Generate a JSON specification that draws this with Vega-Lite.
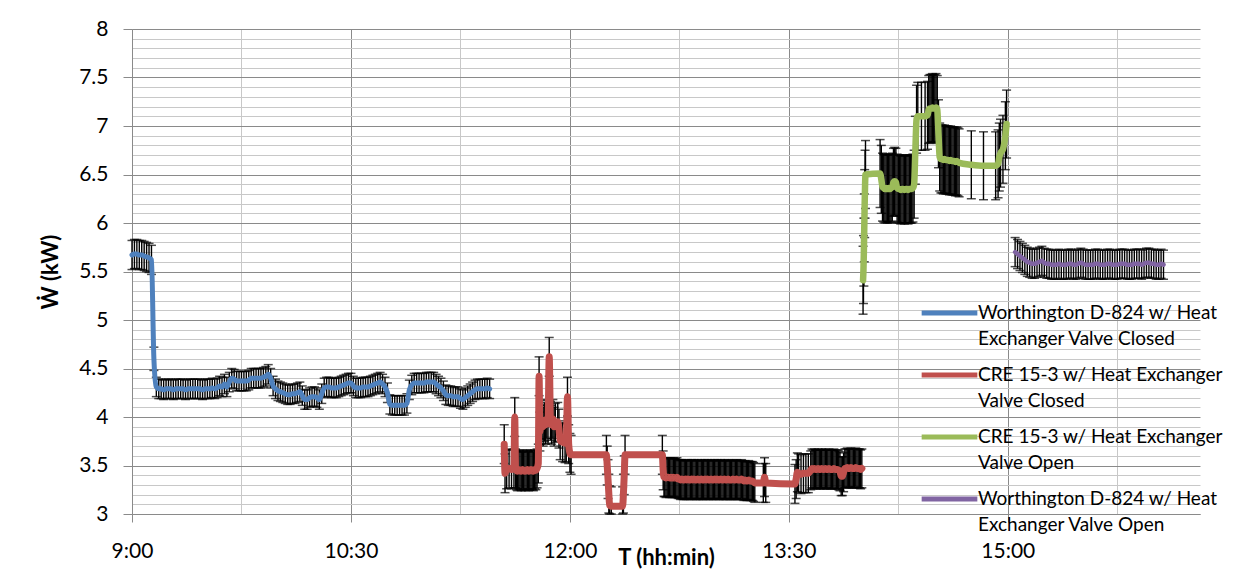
{
  "$schema": "https://vega.github.io/schema/vega-lite/v6.json",
  "width": 1068,
  "height": 485,
  "autosize": {"type": "none"},
  "padding": {"left": 132, "top": 29, "right": 53, "bottom": 62},
  "background": "white",
  "config": {
    "view": {"stroke": null},
    "font": "Lato",
    "style": {"guide-label": {"lineHeight": 26}}
  },
  "data": {
    "format": {"parse": {"t": "date:'%H:%M:%S'"}},
    "values": [
      {"s":"WC","t":"9:00:00","w":5.67,"e":0.15},{"s":"WC","t":"9:01:00","w":5.68,"e":0.15},{"s":"WC","t":"9:02:00","w":5.68,"e":0.15},{"s":"WC","t":"9:03:00","w":5.67,"e":0.15},{"s":"WC","t":"9:04:00","w":5.67,"e":0.15},{"s":"WC","t":"9:05:00","w":5.66,"e":0.15},{"s":"WC","t":"9:06:00","w":5.65,"e":0.15},{"s":"WC","t":"9:07:00","w":5.64,"e":0.15},{"s":"WC","t":"9:08:00","w":5.62,"e":0.15},{"s":"WC","t":"9:09:00","w":4.60,"e":0.12},
      {"s":"WC","t":"9:10:00","w":4.31,"e":0.1},{"s":"WC","t":"9:11:00","w":4.29,"e":0.1},{"s":"WC","t":"9:12:00","w":4.29,"e":0.1},{"s":"WC","t":"9:13:00","w":4.28,"e":0.1},{"s":"WC","t":"9:14:00","w":4.29,"e":0.1},{"s":"WC","t":"9:15:00","w":4.29,"e":0.1},{"s":"WC","t":"9:16:00","w":4.29,"e":0.1},{"s":"WC","t":"9:17:00","w":4.28,"e":0.1},{"s":"WC","t":"9:18:00","w":4.29,"e":0.1},{"s":"WC","t":"9:19:00","w":4.29,"e":0.1},
      {"s":"WC","t":"9:20:00","w":4.29,"e":0.1},{"s":"WC","t":"9:21:00","w":4.29,"e":0.1},{"s":"WC","t":"9:22:00","w":4.28,"e":0.1},{"s":"WC","t":"9:23:00","w":4.29,"e":0.1},{"s":"WC","t":"9:24:00","w":4.29,"e":0.1},{"s":"WC","t":"9:25:00","w":4.29,"e":0.1},{"s":"WC","t":"9:26:00","w":4.29,"e":0.1},{"s":"WC","t":"9:27:00","w":4.29,"e":0.1},{"s":"WC","t":"9:28:00","w":4.29,"e":0.1},{"s":"WC","t":"9:29:00","w":4.28,"e":0.1},
      {"s":"WC","t":"9:30:00","w":4.29,"e":0.1},{"s":"WC","t":"9:31:00","w":4.29,"e":0.1},{"s":"WC","t":"9:32:00","w":4.29,"e":0.1},{"s":"WC","t":"9:33:00","w":4.30,"e":0.1},{"s":"WC","t":"9:34:00","w":4.29,"e":0.1},{"s":"WC","t":"9:35:00","w":4.30,"e":0.1},{"s":"WC","t":"9:36:00","w":4.32,"e":0.1},{"s":"WC","t":"9:37:00","w":4.31,"e":0.1},{"s":"WC","t":"9:38:00","w":4.34,"e":0.1},{"s":"WC","t":"9:39:00","w":4.31,"e":0.1},
      {"s":"WC","t":"9:40:00","w":4.36,"e":0.1},{"s":"WC","t":"9:41:00","w":4.40,"e":0.1},{"s":"WC","t":"9:42:00","w":4.39,"e":0.1},{"s":"WC","t":"9:43:00","w":4.37,"e":0.1},{"s":"WC","t":"9:44:00","w":4.37,"e":0.1},{"s":"WC","t":"9:45:00","w":4.37,"e":0.1},{"s":"WC","t":"9:46:00","w":4.37,"e":0.1},{"s":"WC","t":"9:47:00","w":4.37,"e":0.1},{"s":"WC","t":"9:48:00","w":4.38,"e":0.1},{"s":"WC","t":"9:49:00","w":4.40,"e":0.1},
      {"s":"WC","t":"9:50:00","w":4.40,"e":0.1},{"s":"WC","t":"9:51:00","w":4.40,"e":0.1},{"s":"WC","t":"9:52:00","w":4.40,"e":0.1},{"s":"WC","t":"9:53:00","w":4.40,"e":0.1},{"s":"WC","t":"9:54:00","w":4.41,"e":0.1},{"s":"WC","t":"9:55:00","w":4.42,"e":0.1},{"s":"WC","t":"9:56:00","w":4.44,"e":0.1},{"s":"WC","t":"9:57:00","w":4.40,"e":0.1},{"s":"WC","t":"9:58:00","w":4.32,"e":0.1},{"s":"WC","t":"9:59:00","w":4.29,"e":0.1},
      {"s":"WC","t":"10:00:00","w":4.27,"e":0.1},{"s":"WC","t":"10:01:00","w":4.26,"e":0.1},{"s":"WC","t":"10:02:00","w":4.25,"e":0.1},{"s":"WC","t":"10:03:00","w":4.24,"e":0.1},{"s":"WC","t":"10:04:00","w":4.23,"e":0.1},{"s":"WC","t":"10:05:00","w":4.23,"e":0.1},{"s":"WC","t":"10:06:00","w":4.24,"e":0.1},{"s":"WC","t":"10:07:00","w":4.24,"e":0.1},{"s":"WC","t":"10:08:00","w":4.25,"e":0.1},{"s":"WC","t":"10:09:00","w":4.26,"e":0.1},
      {"s":"WC","t":"10:10:00","w":4.22,"e":0.1},{"s":"WC","t":"10:11:00","w":4.18,"e":0.1},{"s":"WC","t":"10:12:00","w":4.18,"e":0.1},{"s":"WC","t":"10:13:00","w":4.20,"e":0.1},{"s":"WC","t":"10:14:00","w":4.21,"e":0.1},{"s":"WC","t":"10:15:00","w":4.21,"e":0.1},{"s":"WC","t":"10:16:00","w":4.20,"e":0.1},{"s":"WC","t":"10:17:00","w":4.18,"e":0.1},{"s":"WC","t":"10:18:00","w":4.24,"e":0.1},{"s":"WC","t":"10:19:00","w":4.30,"e":0.1},
      {"s":"WC","t":"10:20:00","w":4.31,"e":0.1},{"s":"WC","t":"10:21:00","w":4.31,"e":0.1},{"s":"WC","t":"10:22:00","w":4.30,"e":0.1},{"s":"WC","t":"10:23:00","w":4.30,"e":0.1},{"s":"WC","t":"10:24:00","w":4.30,"e":0.1},{"s":"WC","t":"10:25:00","w":4.31,"e":0.1},{"s":"WC","t":"10:26:00","w":4.32,"e":0.1},{"s":"WC","t":"10:27:00","w":4.33,"e":0.1},{"s":"WC","t":"10:28:00","w":4.34,"e":0.1},{"s":"WC","t":"10:29:00","w":4.35,"e":0.1},
      {"s":"WC","t":"10:30:00","w":4.35,"e":0.1},{"s":"WC","t":"10:31:00","w":4.32,"e":0.1},{"s":"WC","t":"10:32:00","w":4.30,"e":0.1},{"s":"WC","t":"10:33:00","w":4.30,"e":0.1},{"s":"WC","t":"10:34:00","w":4.30,"e":0.1},{"s":"WC","t":"10:35:00","w":4.31,"e":0.1},{"s":"WC","t":"10:36:00","w":4.31,"e":0.1},{"s":"WC","t":"10:37:00","w":4.31,"e":0.1},{"s":"WC","t":"10:38:00","w":4.32,"e":0.1},{"s":"WC","t":"10:39:00","w":4.33,"e":0.1},
      {"s":"WC","t":"10:40:00","w":4.34,"e":0.1},{"s":"WC","t":"10:41:00","w":4.35,"e":0.1},{"s":"WC","t":"10:42:00","w":4.36,"e":0.1},{"s":"WC","t":"10:43:00","w":4.34,"e":0.1},{"s":"WC","t":"10:44:00","w":4.31,"e":0.1},{"s":"WC","t":"10:45:00","w":4.25,"e":0.1},{"s":"WC","t":"10:46:00","w":4.13,"e":0.1},{"s":"WC","t":"10:47:00","w":4.12,"e":0.1},{"s":"WC","t":"10:48:00","w":4.12,"e":0.1},{"s":"WC","t":"10:49:00","w":4.12,"e":0.1},
      {"s":"WC","t":"10:50:00","w":4.12,"e":0.1},{"s":"WC","t":"10:51:00","w":4.12,"e":0.1},{"s":"WC","t":"10:52:00","w":4.12,"e":0.1},{"s":"WC","t":"10:53:00","w":4.14,"e":0.1},{"s":"WC","t":"10:54:00","w":4.28,"e":0.1},{"s":"WC","t":"10:55:00","w":4.33,"e":0.1},{"s":"WC","t":"10:56:00","w":4.35,"e":0.1},{"s":"WC","t":"10:57:00","w":4.35,"e":0.1},{"s":"WC","t":"10:58:00","w":4.35,"e":0.1},{"s":"WC","t":"10:59:00","w":4.35,"e":0.1},
      {"s":"WC","t":"11:00:00","w":4.35,"e":0.1},{"s":"WC","t":"11:01:00","w":4.36,"e":0.1},{"s":"WC","t":"11:02:00","w":4.36,"e":0.1},{"s":"WC","t":"11:03:00","w":4.36,"e":0.1},{"s":"WC","t":"11:04:00","w":4.36,"e":0.1},{"s":"WC","t":"11:05:00","w":4.34,"e":0.1},{"s":"WC","t":"11:06:00","w":4.32,"e":0.1},{"s":"WC","t":"11:07:00","w":4.30,"e":0.1},{"s":"WC","t":"11:08:00","w":4.27,"e":0.1},{"s":"WC","t":"11:09:00","w":4.23,"e":0.1},
      {"s":"WC","t":"11:10:00","w":4.22,"e":0.1},{"s":"WC","t":"11:11:00","w":4.22,"e":0.1},{"s":"WC","t":"11:12:00","w":4.21,"e":0.1},{"s":"WC","t":"11:13:00","w":4.21,"e":0.1},{"s":"WC","t":"11:14:00","w":4.21,"e":0.1},{"s":"WC","t":"11:15:00","w":4.19,"e":0.1},{"s":"WC","t":"11:16:00","w":4.18,"e":0.1},{"s":"WC","t":"11:17:00","w":4.20,"e":0.1},{"s":"WC","t":"11:18:00","w":4.22,"e":0.1},{"s":"WC","t":"11:19:00","w":4.24,"e":0.1},
      {"s":"WC","t":"11:20:00","w":4.26,"e":0.1},{"s":"WC","t":"11:21:00","w":4.28,"e":0.1},{"s":"WC","t":"11:22:00","w":4.29,"e":0.1},{"s":"WC","t":"11:23:00","w":4.29,"e":0.1},{"s":"WC","t":"11:24:00","w":4.29,"e":0.1},{"s":"WC","t":"11:25:00","w":4.29,"e":0.1},{"s":"WC","t":"11:26:00","w":4.30,"e":0.1},{"s":"WC","t":"11:27:00","w":4.29,"e":0.1},

      {"s":"CC","t":"11:33:00","w":3.72,"e":0.2},{"s":"CC","t":"11:33:20","w":3.42,"e":0.2},{"s":"CC","t":"11:34:00","w":3.46,"e":0.2},{"s":"CC","t":"11:35:00","w":3.47,"e":0.2},{"s":"CC","t":"11:36:00","w":3.46,"e":0.2},{"s":"CC","t":"11:37:00","w":3.47,"e":0.2},{"s":"CC","t":"11:37:20","w":4.00,"e":0.2},{"s":"CC","t":"11:37:40","w":3.47,"e":0.2},
      {"s":"CC","t":"11:38:00","w":3.45,"e":0.2},{"s":"CC","t":"11:38:30","w":3.44,"e":0.2},{"s":"CC","t":"11:39:00","w":3.46,"e":0.2},{"s":"CC","t":"11:39:30","w":3.45,"e":0.2},{"s":"CC","t":"11:40:00","w":3.44,"e":0.2},{"s":"CC","t":"11:40:30","w":3.46,"e":0.2},{"s":"CC","t":"11:41:00","w":3.45,"e":0.2},{"s":"CC","t":"11:41:30","w":3.44,"e":0.2},{"s":"CC","t":"11:42:00","w":3.45,"e":0.2},{"s":"CC","t":"11:42:30","w":3.46,"e":0.2},
      {"s":"CC","t":"11:43:00","w":3.44,"e":0.2},{"s":"CC","t":"11:43:30","w":3.45,"e":0.2},{"s":"CC","t":"11:44:00","w":3.46,"e":0.2},{"s":"CC","t":"11:44:30","w":3.45,"e":0.2},{"s":"CC","t":"11:45:00","w":3.44,"e":0.2},{"s":"CC","t":"11:45:30","w":3.46,"e":0.2},{"s":"CC","t":"11:46:00","w":3.45,"e":0.2},{"s":"CC","t":"11:46:30","w":3.47,"e":0.2},{"s":"CC","t":"11:47:00","w":3.52,"e":0.2},{"s":"CC","t":"11:47:20","w":4.42,"e":0.2},
      {"s":"CC","t":"11:47:40","w":3.85,"e":0.2},{"s":"CC","t":"11:48:00","w":3.92,"e":0.2},{"s":"CC","t":"11:48:30","w":3.97,"e":0.2},{"s":"CC","t":"11:49:00","w":3.90,"e":0.2},{"s":"CC","t":"11:49:30","w":3.95,"e":0.2},{"s":"CC","t":"11:50:00","w":3.92,"e":0.2},{"s":"CC","t":"11:50:30","w":3.98,"e":0.2},{"s":"CC","t":"11:51:00","w":3.93,"e":0.2},{"s":"CC","t":"11:51:30","w":4.62,"e":0.2},{"s":"CC","t":"11:52:00","w":3.96,"e":0.2},
      {"s":"CC","t":"11:52:30","w":3.92,"e":0.2},{"s":"CC","t":"11:53:00","w":3.98,"e":0.2},{"s":"CC","t":"11:53:30","w":3.90,"e":0.2},{"s":"CC","t":"11:54:00","w":3.94,"e":0.2},{"s":"CC","t":"11:55:00","w":3.95,"e":0.2},{"s":"CC","t":"11:55:30","w":3.88,"e":0.2},{"s":"CC","t":"11:56:00","w":3.76,"e":0.2},{"s":"CC","t":"11:57:00","w":3.74,"e":0.2},{"s":"CC","t":"11:58:00","w":3.73,"e":0.2},{"s":"CC","t":"11:58:30","w":3.74,"e":0.2},
      {"s":"CC","t":"11:59:00","w":4.21,"e":0.2},{"s":"CC","t":"11:59:30","w":3.72,"e":0.2},{"s":"CC","t":"12:00:00","w":3.63,"e":0.2},{"s":"CC","t":"12:00:30","w":3.61,"e":0.2},{"s":"CC","t":"12:15:00","w":3.61,"e":0.2},{"s":"CC","t":"12:15:20","w":3.50,"e":0.2},{"s":"CC","t":"12:15:40","w":3.36,"e":0.2},{"s":"CC","t":"12:16:00","w":3.21,"e":0.2},{"s":"CC","t":"12:16:20","w":3.09,"e":0.2},{"s":"CC","t":"12:17:00","w":3.08,"e":0.2},
      {"s":"CC","t":"12:21:40","w":3.08,"e":0.2},{"s":"CC","t":"12:22:00","w":3.21,"e":0.2},{"s":"CC","t":"12:22:20","w":3.40,"e":0.2},{"s":"CC","t":"12:22:40","w":3.61,"e":0.2},{"s":"CC","t":"12:38:00","w":3.61,"e":0.2},{"s":"CC","t":"12:38:20","w":3.45,"e":0.2},{"s":"CC","t":"12:38:40","w":3.38,"e":0.2},
      {"s":"CC","t":"12:39:00","w":3.38,"e":0.2},{"s":"CC","t":"12:39:30","w":3.37,"e":0.2},{"s":"CC","t":"12:40:00","w":3.38,"e":0.2},{"s":"CC","t":"12:40:30","w":3.38,"e":0.2},{"s":"CC","t":"12:41:00","w":3.37,"e":0.2},{"s":"CC","t":"12:41:30","w":3.38,"e":0.2},{"s":"CC","t":"12:42:00","w":3.37,"e":0.2},{"s":"CC","t":"12:42:30","w":3.38,"e":0.2},{"s":"CC","t":"12:43:00","w":3.37,"e":0.2},{"s":"CC","t":"12:43:30","w":3.37,"e":0.2},
      {"s":"CC","t":"12:44:00","w":3.38,"e":0.2},{"s":"CC","t":"12:44:30","w":3.36,"e":0.2},{"s":"CC","t":"12:45:00","w":3.36,"e":0.2},{"s":"CC","t":"12:45:30","w":3.35,"e":0.2},{"s":"CC","t":"12:46:00","w":3.36,"e":0.2},{"s":"CC","t":"12:46:30","w":3.35,"e":0.2},{"s":"CC","t":"12:47:00","w":3.35,"e":0.2},{"s":"CC","t":"12:47:30","w":3.36,"e":0.2},{"s":"CC","t":"12:48:00","w":3.35,"e":0.2},{"s":"CC","t":"12:48:30","w":3.36,"e":0.2},
      {"s":"CC","t":"12:49:00","w":3.35,"e":0.2},{"s":"CC","t":"12:49:30","w":3.35,"e":0.2},{"s":"CC","t":"12:50:00","w":3.36,"e":0.2},{"s":"CC","t":"12:50:30","w":3.35,"e":0.2},{"s":"CC","t":"12:51:00","w":3.36,"e":0.2},{"s":"CC","t":"12:51:30","w":3.35,"e":0.2},{"s":"CC","t":"12:52:00","w":3.35,"e":0.2},{"s":"CC","t":"12:52:30","w":3.36,"e":0.2},{"s":"CC","t":"12:53:00","w":3.35,"e":0.2},{"s":"CC","t":"12:53:30","w":3.35,"e":0.2},
      {"s":"CC","t":"12:54:00","w":3.36,"e":0.2},{"s":"CC","t":"12:54:30","w":3.35,"e":0.2},{"s":"CC","t":"12:55:00","w":3.35,"e":0.2},{"s":"CC","t":"12:55:30","w":3.36,"e":0.2},{"s":"CC","t":"12:56:00","w":3.35,"e":0.2},{"s":"CC","t":"12:56:30","w":3.36,"e":0.2},{"s":"CC","t":"12:57:00","w":3.35,"e":0.2},{"s":"CC","t":"12:57:30","w":3.35,"e":0.2},{"s":"CC","t":"12:58:00","w":3.36,"e":0.2},{"s":"CC","t":"12:58:30","w":3.35,"e":0.2},
      {"s":"CC","t":"12:59:00","w":3.35,"e":0.2},{"s":"CC","t":"12:59:30","w":3.36,"e":0.2},{"s":"CC","t":"13:00:00","w":3.35,"e":0.2},{"s":"CC","t":"13:00:30","w":3.36,"e":0.2},{"s":"CC","t":"13:01:00","w":3.35,"e":0.2},{"s":"CC","t":"13:01:30","w":3.35,"e":0.2},{"s":"CC","t":"13:02:00","w":3.36,"e":0.2},{"s":"CC","t":"13:02:30","w":3.35,"e":0.2},{"s":"CC","t":"13:03:00","w":3.35,"e":0.2},{"s":"CC","t":"13:03:30","w":3.36,"e":0.2},
      {"s":"CC","t":"13:04:00","w":3.35,"e":0.2},{"s":"CC","t":"13:04:30","w":3.35,"e":0.2},{"s":"CC","t":"13:05:00","w":3.36,"e":0.2},{"s":"CC","t":"13:05:30","w":3.35,"e":0.2},{"s":"CC","t":"13:06:00","w":3.35,"e":0.2},{"s":"CC","t":"13:06:30","w":3.35,"e":0.2},{"s":"CC","t":"13:07:00","w":3.36,"e":0.2},{"s":"CC","t":"13:07:30","w":3.35,"e":0.2},{"s":"CC","t":"13:08:00","w":3.35,"e":0.2},{"s":"CC","t":"13:08:30","w":3.36,"e":0.2},
      {"s":"CC","t":"13:09:00","w":3.35,"e":0.2},{"s":"CC","t":"13:09:30","w":3.35,"e":0.2},{"s":"CC","t":"13:10:00","w":3.35,"e":0.2},{"s":"CC","t":"13:10:30","w":3.36,"e":0.2},{"s":"CC","t":"13:11:00","w":3.35,"e":0.2},{"s":"CC","t":"13:11:30","w":3.34,"e":0.2},{"s":"CC","t":"13:12:00","w":3.35,"e":0.2},{"s":"CC","t":"13:12:30","w":3.34,"e":0.2},{"s":"CC","t":"13:13:00","w":3.34,"e":0.2},{"s":"CC","t":"13:13:30","w":3.35,"e":0.2},
      {"s":"CC","t":"13:14:00","w":3.34,"e":0.2},{"s":"CC","t":"13:14:30","w":3.34,"e":0.2},{"s":"CC","t":"13:15:00","w":3.34,"e":0.2},{"s":"CC","t":"13:15:30","w":3.33,"e":0.2},{"s":"CC","t":"13:16:00","w":3.32,"e":0.2},{"s":"CC","t":"13:19:30","w":3.32,"e":0.2},{"s":"CC","t":"13:20:00","w":3.38,"e":0.2},{"s":"CC","t":"13:20:30","w":3.32,"e":0.2},{"s":"CC","t":"13:32:30","w":3.31,"e":0.2},{"s":"CC","t":"13:33:00","w":3.36,"e":0.2},
      {"s":"CC","t":"13:33:30","w":3.43,"e":0.2},{"s":"CC","t":"13:34:00","w":3.42,"e":0.2},{"s":"CC","t":"13:35:00","w":3.41,"e":0.2},{"s":"CC","t":"13:36:00","w":3.42,"e":0.2},{"s":"CC","t":"13:37:00","w":3.42,"e":0.2},{"s":"CC","t":"13:38:00","w":3.42,"e":0.2},{"s":"CC","t":"13:39:00","w":3.45,"e":0.2},{"s":"CC","t":"13:39:30","w":3.47,"e":0.2},
      {"s":"CC","t":"13:40:00","w":3.46,"e":0.2},{"s":"CC","t":"13:40:30","w":3.47,"e":0.2},{"s":"CC","t":"13:41:00","w":3.46,"e":0.2},{"s":"CC","t":"13:41:30","w":3.46,"e":0.2},{"s":"CC","t":"13:42:00","w":3.47,"e":0.2},{"s":"CC","t":"13:42:30","w":3.46,"e":0.2},{"s":"CC","t":"13:43:00","w":3.46,"e":0.2},{"s":"CC","t":"13:43:30","w":3.47,"e":0.2},{"s":"CC","t":"13:44:00","w":3.46,"e":0.2},{"s":"CC","t":"13:44:30","w":3.46,"e":0.2},
      {"s":"CC","t":"13:45:00","w":3.47,"e":0.2},{"s":"CC","t":"13:45:30","w":3.46,"e":0.2},{"s":"CC","t":"13:46:00","w":3.46,"e":0.2},{"s":"CC","t":"13:46:30","w":3.47,"e":0.2},{"s":"CC","t":"13:47:00","w":3.46,"e":0.2},{"s":"CC","t":"13:47:30","w":3.46,"e":0.2},{"s":"CC","t":"13:48:00","w":3.46,"e":0.2},{"s":"CC","t":"13:48:30","w":3.47,"e":0.2},{"s":"CC","t":"13:49:00","w":3.46,"e":0.2},{"s":"CC","t":"13:49:30","w":3.46,"e":0.2},
      {"s":"CC","t":"13:50:00","w":3.46,"e":0.2},{"s":"CC","t":"13:50:30","w":3.45,"e":0.2},{"s":"CC","t":"13:51:00","w":3.44,"e":0.2},{"s":"CC","t":"13:51:30","w":3.39,"e":0.2},{"s":"CC","t":"13:52:00","w":3.39,"e":0.2},{"s":"CC","t":"13:52:30","w":3.43,"e":0.2},
      {"s":"CC","t":"13:53:00","w":3.47,"e":0.2},{"s":"CC","t":"13:53:30","w":3.47,"e":0.2},{"s":"CC","t":"13:54:00","w":3.48,"e":0.2},{"s":"CC","t":"13:54:30","w":3.47,"e":0.2},{"s":"CC","t":"13:55:00","w":3.47,"e":0.2},{"s":"CC","t":"13:55:30","w":3.48,"e":0.2},{"s":"CC","t":"13:56:00","w":3.47,"e":0.2},{"s":"CC","t":"13:56:30","w":3.47,"e":0.2},{"s":"CC","t":"13:57:00","w":3.47,"e":0.2},{"s":"CC","t":"13:57:30","w":3.48,"e":0.2},
      {"s":"CC","t":"13:58:00","w":3.47,"e":0.2},{"s":"CC","t":"13:58:30","w":3.47,"e":0.2},{"s":"CC","t":"13:59:00","w":3.47,"e":0.2},{"s":"CC","t":"13:59:30","w":3.46,"e":0.2},{"s":"CC","t":"14:00:00","w":3.47,"e":0.2},

      {"s":"CO","t":"14:00:30","w":5.41,"e":0.35},{"s":"CO","t":"14:00:40","w":5.52,"e":0.35},{"s":"CO","t":"14:00:50","w":5.70,"e":0.35},{"s":"CO","t":"14:01:00","w":5.95,"e":0.35},{"s":"CO","t":"14:01:10","w":6.20,"e":0.35},{"s":"CO","t":"14:01:20","w":6.40,"e":0.35},{"s":"CO","t":"14:01:30","w":6.50,"e":0.35},{"s":"CO","t":"14:07:30","w":6.51,"e":0.35},{"s":"CO","t":"14:08:00","w":6.45,"e":0.35},{"s":"CO","t":"14:08:30","w":6.37,"e":0.35},
      {"s":"CO","t":"14:09:00","w":6.36,"e":0.35},{"s":"CO","t":"14:09:30","w":6.35,"e":0.35},{"s":"CO","t":"14:10:00","w":6.36,"e":0.35},{"s":"CO","t":"14:10:30","w":6.35,"e":0.35},{"s":"CO","t":"14:11:00","w":6.36,"e":0.35},{"s":"CO","t":"14:11:30","w":6.35,"e":0.35},{"s":"CO","t":"14:12:00","w":6.36,"e":0.35},{"s":"CO","t":"14:12:30","w":6.37,"e":0.35},{"s":"CO","t":"14:13:00","w":6.42,"e":0.35},{"s":"CO","t":"14:13:30","w":6.43,"e":0.35},
      {"s":"CO","t":"14:14:00","w":6.42,"e":0.35},{"s":"CO","t":"14:14:30","w":6.36,"e":0.35},{"s":"CO","t":"14:15:00","w":6.35,"e":0.35},{"s":"CO","t":"14:15:30","w":6.35,"e":0.35},{"s":"CO","t":"14:16:00","w":6.34,"e":0.35},{"s":"CO","t":"14:16:30","w":6.35,"e":0.35},{"s":"CO","t":"14:17:00","w":6.35,"e":0.35},{"s":"CO","t":"14:17:30","w":6.34,"e":0.35},{"s":"CO","t":"14:18:00","w":6.35,"e":0.35},{"s":"CO","t":"14:18:30","w":6.35,"e":0.35},
      {"s":"CO","t":"14:19:00","w":6.34,"e":0.35},{"s":"CO","t":"14:19:30","w":6.35,"e":0.35},{"s":"CO","t":"14:20:00","w":6.35,"e":0.35},{"s":"CO","t":"14:20:30","w":6.35,"e":0.35},{"s":"CO","t":"14:21:00","w":6.36,"e":0.35},{"s":"CO","t":"14:21:30","w":6.40,"e":0.35},{"s":"CO","t":"14:22:00","w":6.75,"e":0.35},{"s":"CO","t":"14:22:30","w":7.07,"e":0.35},{"s":"CO","t":"14:23:00","w":7.10,"e":0.35},{"s":"CO","t":"14:24:30","w":7.10,"e":0.35},
      {"s":"CO","t":"14:26:00","w":7.10,"e":0.35},{"s":"CO","t":"14:27:00","w":7.11,"e":0.35},{"s":"CO","t":"14:27:30","w":7.17,"e":0.35},{"s":"CO","t":"14:28:00","w":7.18,"e":0.35},{"s":"CO","t":"14:28:30","w":7.18,"e":0.35},{"s":"CO","t":"14:29:00","w":7.19,"e":0.35},{"s":"CO","t":"14:29:30","w":7.18,"e":0.35},{"s":"CO","t":"14:30:00","w":7.18,"e":0.35},{"s":"CO","t":"14:30:30","w":7.19,"e":0.35},{"s":"CO","t":"14:31:00","w":7.17,"e":0.35},
      {"s":"CO","t":"14:31:30","w":6.92,"e":0.35},{"s":"CO","t":"14:32:00","w":6.68,"e":0.35},{"s":"CO","t":"14:32:30","w":6.66,"e":0.35},{"s":"CO","t":"14:33:00","w":6.66,"e":0.35},{"s":"CO","t":"14:33:30","w":6.65,"e":0.35},{"s":"CO","t":"14:34:00","w":6.66,"e":0.35},{"s":"CO","t":"14:34:30","w":6.65,"e":0.35},{"s":"CO","t":"14:35:00","w":6.65,"e":0.35},{"s":"CO","t":"14:35:30","w":6.65,"e":0.35},{"s":"CO","t":"14:36:00","w":6.64,"e":0.35},
      {"s":"CO","t":"14:36:30","w":6.65,"e":0.35},{"s":"CO","t":"14:37:00","w":6.64,"e":0.35},{"s":"CO","t":"14:37:30","w":6.64,"e":0.35},{"s":"CO","t":"14:38:00","w":6.64,"e":0.35},{"s":"CO","t":"14:38:30","w":6.63,"e":0.35},{"s":"CO","t":"14:39:00","w":6.64,"e":0.35},{"s":"CO","t":"14:39:30","w":6.63,"e":0.35},{"s":"CO","t":"14:40:00","w":6.62,"e":0.35},{"s":"CO","t":"14:45:00","w":6.60,"e":0.35},{"s":"CO","t":"14:50:00","w":6.59,"e":0.35},
      {"s":"CO","t":"14:55:00","w":6.59,"e":0.35},{"s":"CO","t":"14:56:00","w":6.61,"e":0.35},{"s":"CO","t":"14:56:30","w":6.68,"e":0.35},{"s":"CO","t":"14:57:00","w":6.72,"e":0.35},{"s":"CO","t":"14:58:00","w":6.76,"e":0.35},{"s":"CO","t":"14:59:00","w":6.90,"e":0.35},{"s":"CO","t":"14:59:30","w":7.02,"e":0.35},

      {"s":"WO","t":"15:03:00","w":5.70,"e":0.15},{"s":"WO","t":"15:04:00","w":5.68,"e":0.15},{"s":"WO","t":"15:05:00","w":5.66,"e":0.15},{"s":"WO","t":"15:06:00","w":5.64,"e":0.15},{"s":"WO","t":"15:07:00","w":5.62,"e":0.15},{"s":"WO","t":"15:08:00","w":5.60,"e":0.15},{"s":"WO","t":"15:09:00","w":5.59,"e":0.15},{"s":"WO","t":"15:10:00","w":5.58,"e":0.15},{"s":"WO","t":"15:11:00","w":5.58,"e":0.15},{"s":"WO","t":"15:12:00","w":5.59,"e":0.15},
      {"s":"WO","t":"15:13:00","w":5.60,"e":0.15},{"s":"WO","t":"15:14:00","w":5.61,"e":0.15},{"s":"WO","t":"15:15:00","w":5.59,"e":0.15},{"s":"WO","t":"15:16:00","w":5.58,"e":0.15},{"s":"WO","t":"15:17:00","w":5.58,"e":0.15},{"s":"WO","t":"15:18:00","w":5.57,"e":0.15},{"s":"WO","t":"15:19:00","w":5.57,"e":0.15},{"s":"WO","t":"15:20:00","w":5.57,"e":0.15},{"s":"WO","t":"15:21:00","w":5.58,"e":0.15},{"s":"WO","t":"15:22:00","w":5.57,"e":0.15},
      {"s":"WO","t":"15:23:00","w":5.57,"e":0.15},{"s":"WO","t":"15:24:00","w":5.57,"e":0.15},{"s":"WO","t":"15:25:00","w":5.58,"e":0.15},{"s":"WO","t":"15:26:00","w":5.58,"e":0.15},{"s":"WO","t":"15:27:00","w":5.57,"e":0.15},{"s":"WO","t":"15:28:00","w":5.57,"e":0.15},{"s":"WO","t":"15:29:00","w":5.58,"e":0.15},{"s":"WO","t":"15:30:00","w":5.59,"e":0.15},{"s":"WO","t":"15:31:00","w":5.58,"e":0.15},{"s":"WO","t":"15:32:00","w":5.57,"e":0.15},
      {"s":"WO","t":"15:33:00","w":5.57,"e":0.15},{"s":"WO","t":"15:34:00","w":5.57,"e":0.15},{"s":"WO","t":"15:35:00","w":5.57,"e":0.15},{"s":"WO","t":"15:36:00","w":5.58,"e":0.15},{"s":"WO","t":"15:37:00","w":5.58,"e":0.15},{"s":"WO","t":"15:38:00","w":5.57,"e":0.15},{"s":"WO","t":"15:39:00","w":5.57,"e":0.15},{"s":"WO","t":"15:40:00","w":5.57,"e":0.15},{"s":"WO","t":"15:41:00","w":5.58,"e":0.15},{"s":"WO","t":"15:42:00","w":5.58,"e":0.15},
      {"s":"WO","t":"15:43:00","w":5.57,"e":0.15},{"s":"WO","t":"15:44:00","w":5.57,"e":0.15},{"s":"WO","t":"15:45:00","w":5.57,"e":0.15},{"s":"WO","t":"15:46:00","w":5.58,"e":0.15},{"s":"WO","t":"15:47:00","w":5.58,"e":0.15},{"s":"WO","t":"15:48:00","w":5.58,"e":0.15},{"s":"WO","t":"15:49:00","w":5.57,"e":0.15},{"s":"WO","t":"15:50:00","w":5.57,"e":0.15},{"s":"WO","t":"15:51:00","w":5.57,"e":0.15},{"s":"WO","t":"15:52:00","w":5.58,"e":0.15},
      {"s":"WO","t":"15:53:00","w":5.58,"e":0.15},{"s":"WO","t":"15:54:00","w":5.58,"e":0.15},{"s":"WO","t":"15:55:00","w":5.57,"e":0.15},{"s":"WO","t":"15:56:00","w":5.58,"e":0.15},{"s":"WO","t":"15:57:00","w":5.59,"e":0.15},{"s":"WO","t":"15:58:00","w":5.59,"e":0.15},{"s":"WO","t":"15:59:00","w":5.58,"e":0.15},{"s":"WO","t":"16:00:00","w":5.58,"e":0.15},{"s":"WO","t":"16:01:00","w":5.57,"e":0.15},{"s":"WO","t":"16:02:00","w":5.57,"e":0.15},
      {"s":"WO","t":"16:03:00","w":5.58,"e":0.15},{"s":"WO","t":"16:04:00","w":5.57,"e":0.15}
    ]
  },
  "encoding": {
    "x": {
      "field": "t",
      "type": "temporal",
      "scale": {
        "domain": [
          {"year": 1900, "month": 1, "date": 1, "hours": 9, "minutes": 0},
          {"year": 1900, "month": 1, "date": 1, "hours": 16, "minutes": 19}
        ],
        "nice": false
      },
      "axis": {
        "values": [
          {"year": 1900, "month": 1, "date": 1, "hours": 9, "minutes": 0},
          {"year": 1900, "month": 1, "date": 1, "hours": 9, "minutes": 45},
          {"year": 1900, "month": 1, "date": 1, "hours": 10, "minutes": 30},
          {"year": 1900, "month": 1, "date": 1, "hours": 11, "minutes": 15},
          {"year": 1900, "month": 1, "date": 1, "hours": 12, "minutes": 0},
          {"year": 1900, "month": 1, "date": 1, "hours": 12, "minutes": 45},
          {"year": 1900, "month": 1, "date": 1, "hours": 13, "minutes": 30},
          {"year": 1900, "month": 1, "date": 1, "hours": 14, "minutes": 15},
          {"year": 1900, "month": 1, "date": 1, "hours": 15, "minutes": 0},
          {"year": 1900, "month": 1, "date": 1, "hours": 15, "minutes": 45}
        ],
        "labelExpr": "(hours(datum.value) * 60 + minutes(datum.value)) % 90 == 0 ? timeFormat(datum.value, '%-H:%M') : ''",
        "grid": true,
        "gridColor": {"condition": {"test": "(hours(datum.value) * 60 + minutes(datum.value)) % 90 == 0", "value": "#8a8a8a"}, "value": "#c8c8c8"},
        "tickColor": {"condition": {"test": "(hours(datum.value) * 60 + minutes(datum.value)) % 90 == 0", "value": "#8a8a8a"}, "value": "transparent"},
        "tickSize": 8,
        "domainColor": "#8a8a8a",
        "labelFont": "Lato",
        "labelFontSize": 21,
        "labelColor": "#000000",
        "labelPadding": 18,
        "labelFlush": false,
        "labelOverlap": false,
        "title": "T (hh:min)",
        "titleFont": "Lato",
        "titleFontSize": 22,
        "titleFontWeight": "bold",
        "titleColor": "#000000",
        "titlePadding": -14
      }
    },
    "y": {
      "field": "w",
      "type": "quantitative",
      "scale": {"domain": [3, 8], "nice": false, "zero": false, "clamp": true},
      "axis": {
        "values": [3, 3.1, 3.2, 3.3, 3.4, 3.5, 3.6, 3.7, 3.8, 3.9, 4, 4.1, 4.2, 4.3, 4.4, 4.5, 4.6, 4.7, 4.8, 4.9, 5, 5.1, 5.2, 5.3, 5.4, 5.5, 5.6, 5.7, 5.8, 5.9, 6, 6.1, 6.2, 6.3, 6.4, 6.5, 6.6, 6.7, 6.8, 6.9, 7, 7.1, 7.2, 7.3, 7.4, 7.5, 7.6, 7.7, 7.8, 7.9, 8],
        "format": "~g",
        "labelExpr": "round(datum.value * 10) % 5 == 0 ? datum.label : ''",
        "grid": true,
        "gridColor": {"condition": {"test": "round(datum.value * 10) % 5 == 0", "value": "#8a8a8a"}, "value": "#c8c8c8"},
        "tickColor": {"condition": {"test": "round(datum.value * 10) % 5 == 0", "value": "#8a8a8a"}, "value": "transparent"},
        "tickSize": 9,
        "domainColor": "#8a8a8a",
        "labelFont": "Lato",
        "labelFontSize": 21,
        "labelColor": "#000000",
        "labelPadding": 15,
        "labelFlush": false,
        "labelOverlap": false,
        "title": "Ẇ (kW)",
        "titleFont": "Lato",
        "titleFontSize": 22,
        "titleFontWeight": "bold",
        "titleColor": "#000000",
        "titlePadding": 16
      }
    },
    "color": {
      "field": "s",
      "type": "nominal",
      "scale": {"domain": ["WC", "CC", "CO", "WO"], "range": ["#4F81BD", "#C0504D", "#9BBB59", "#8064A2"]},
      "legend": {
        "orient": "none",
        "legendX": 787,
        "legendY": 258,
        "title": null,
        "padding": 0,
        "labelExpr": "datum.value == 'WC' ? ['Worthington D-824 w/ Heat', 'Exchanger Valve Closed'] : datum.value == 'CC' ? ['CRE 15-3 w/ Heat Exchanger', 'Valve Closed'] : datum.value == 'CO' ? ['CRE 15-3 w/ Heat Exchanger', 'Valve Open'] : ['Worthington D-824 w/ Heat', 'Exchanger Valve Open']",
        "labelFont": "Lato",
        "labelFontSize": 19,
        "labelColor": "#000000",
        "labelLimit": 400,
        "labelOffset": -2,
        "symbolType": "stroke",
        "symbolStrokeWidth": 5,
        "symbolSize": 3100,
        "clipHeight": 52,
        "rowPadding": 0
      }
    }
  },
  "layer": [
    {
      "mark": {
        "type": "errorbar",
        "color": "#000000",
        "thickness": 1.4,
        "ticks": {"size": 9, "thickness": 1.5, "color": "#000000"}
      },
      "encoding": {
        "yError": {"field": "e"},
        "color": {"value": "#000000"}
      }
    },
    {
      "transform": [{"filter": "datum.s == 'WC'"}],
      "mark": {"type": "line", "interpolate": "monotone", "strokeCap": "round", "strokeJoin": "round", "strokeWidth": 5}
    },
    {
      "transform": [{"filter": "datum.s == 'CC'"}],
      "mark": {"type": "line", "interpolate": "monotone", "strokeCap": "round", "strokeJoin": "round", "strokeWidth": 7}
    },
    {
      "transform": [{"filter": "datum.s == 'CO'"}],
      "mark": {"type": "line", "interpolate": "monotone", "strokeCap": "round", "strokeJoin": "round", "strokeWidth": 6.5}
    },
    {
      "transform": [{"filter": "datum.s == 'WO'"}],
      "mark": {"type": "line", "interpolate": "monotone", "strokeCap": "round", "strokeJoin": "round", "strokeWidth": 4.5}
    }
  ]
}
